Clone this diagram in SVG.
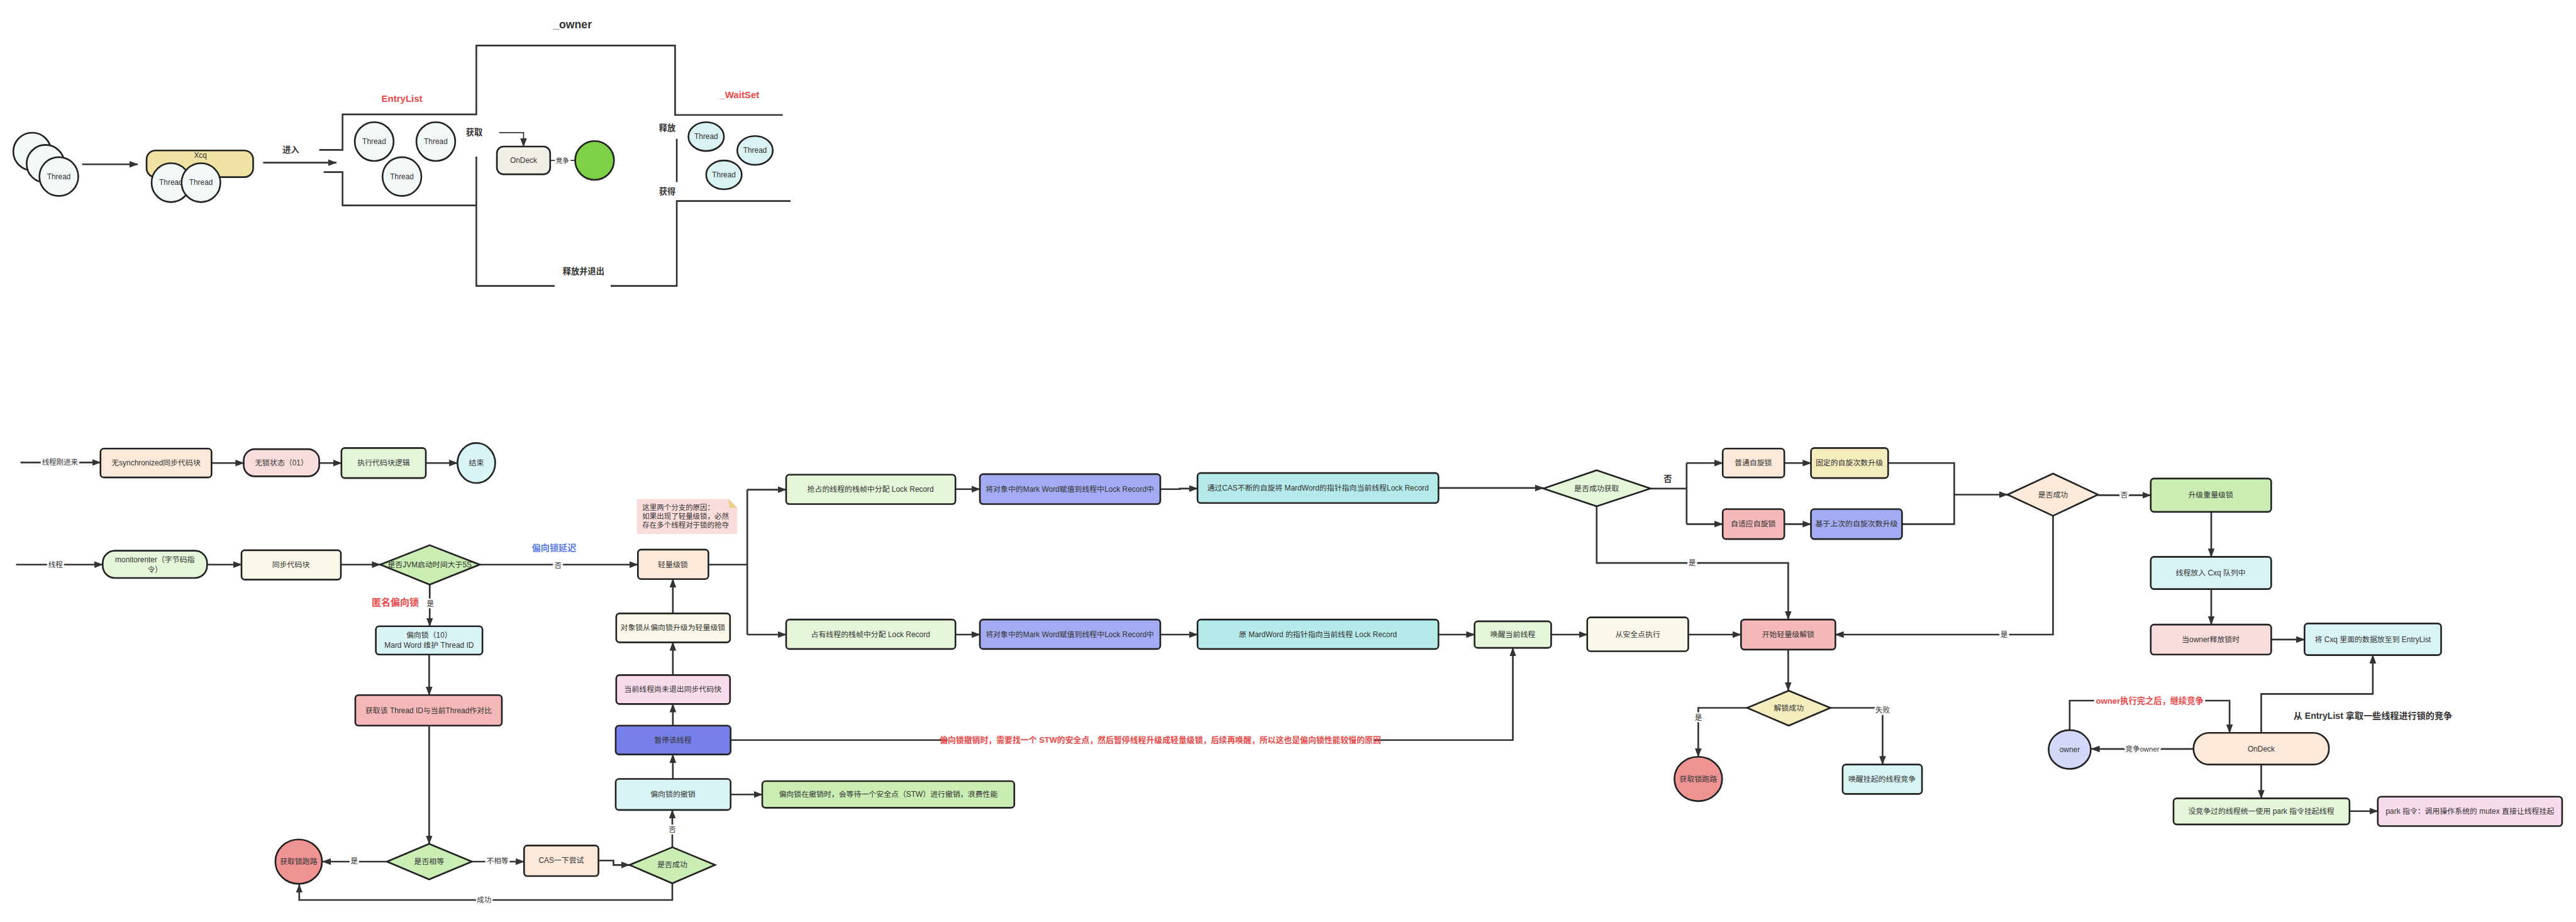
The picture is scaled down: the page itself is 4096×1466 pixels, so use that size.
<svg xmlns="http://www.w3.org/2000/svg" width="4096" height="1466" viewBox="0 0 4096 1466">
<defs>
<marker id="ah" markerWidth="16" markerHeight="12" refX="15" refY="6" orient="auto" markerUnits="userSpaceOnUse"><path d="M0,0 L16,6 L0,12 z" fill="#333"/></marker>
<style>
text{font-family:"Liberation Sans","Noto Sans CJK SC",sans-serif;font-size:13.5px;fill:#333;text-anchor:middle;dominant-baseline:central}
.b{stroke:#222;stroke-width:3}
.w{fill:none;stroke:#333;stroke-width:3}
.e{fill:none;stroke:#333;stroke-width:3;marker-end:url(#ah)}
.lbl{paint-order:stroke;stroke:#fff;stroke-width:6px;stroke-linejoin:round;font-size:13px}
.big{font-size:16px;font-weight:bold}
.red{fill:#e84848;font-weight:bold}
.blue{fill:#5b7ce8;font-weight:bold}
.peach{fill:#fce9da}.pinkl{fill:#f9dcdc}.greenl{fill:#e4f5d9}.cyan{fill:#d9f4f4}.cream{fill:#fcf8e9}
.gd{fill:#c9edb2}.salmon{fill:#f4b8b8}.bp{fill:#7780e8}.lav{fill:#a3acf2}.teal{fill:#b5eaea}
.yel{fill:#f5ecbd}.pink{fill:#f9dcec}.thr{fill:#f2f8f8}.thw{fill:#d9f2f2}
</style>
</defs>
<rect width="4096" height="1466" fill="#fff"/>
<g transform="scale(0.882759)">
<!-- ===== TOP DIAGRAM ===== -->
<g id="top-structure">
<path class="w" d="M575,270 H617 V206 H858 V82 H1216 V207 H1410"/>
<path class="w" d="M583,310 H617 V370 H858"/>
<path class="w" d="M858,282 V515 H999"/>
<path class="w" d="M1100,515 H1219 V362 H1424"/>
<path class="w" d="M1219,250 V328"/>
<text x="1031" y="44" style="font-size:20px;font-weight:bold">_owner</text>
<text x="724" y="177" class="red" style="font-size:17px">EntryList</text>
<text x="1332" y="171" class="red" style="font-size:17px">_WaitSet</text>
<text x="1051" y="489" style="font-size:15px;font-weight:bold">释放并退出</text>
<text x="1202" y="230" style="font-size:15px;font-weight:bold">释放</text>
<text x="1202" y="345" style="font-size:15px;font-weight:bold">获得</text>
<text x="854" y="239" style="font-size:15px;font-weight:bold">获取</text>
<text x="524" y="270" style="font-size:15px;font-weight:bold">进入</text>
</g>
<g id="top-connectors">
<path class="e" d="M148,296 H248"/>
<path class="e" d="M474,293 H606"/>
<path class="e" style="stroke-width:2" d="M899,239 H943 V264"/>
<path class="w" style="stroke-width:2" d="M991,289 H1036"/>
<text x="1013" y="289" class="lbl" style="font-size:12px">竞争</text>
</g>
<g id="threads-in">
<circle cx="58" cy="273" r="34" class="b thr"/>
<circle cx="82" cy="295" r="34" class="b thr"/>
<circle cx="106" cy="318" r="35" class="b thr"/>
<text x="106" y="318">Thread</text>
</g>
<g id="xcq">
<rect x="264" y="271" width="192" height="48" rx="16" class="b" fill="#f0e2a3"/>
<text x="361" y="280">Xcq</text>
<circle cx="308" cy="329" r="35" class="b thr"/>
<text x="308" y="329">Thread</text>
<circle cx="362" cy="329" r="35" class="b thr"/>
<text x="362" y="329">Thread</text>
</g>
<g id="entrylist-threads">
<circle cx="674" cy="255" r="35" class="b thr"/><text x="674" y="255">Thread</text>
<circle cx="785" cy="255" r="35" class="b thr"/><text x="785" y="255">Thread</text>
<circle cx="724" cy="318" r="35" class="b thr"/><text x="724" y="318">Thread</text>
</g>
<g id="ondeck-top">
<rect x="895" y="264" width="96" height="50" rx="12" class="b" fill="#f2efe8"/>
<text x="943" y="289">OnDeck</text>
</g>
<g id="owner-top">
<circle cx="1071" cy="289" r="35" class="b" fill="#7ed146"/>
</g>
<g id="waitset-threads">
<ellipse cx="1272" cy="246" rx="32" ry="26" class="b thw"/><text x="1272" y="246">Thread</text>
<ellipse cx="1360" cy="271" rx="32" ry="26" class="b thw"/><text x="1360" y="271">Thread</text>
<ellipse cx="1304" cy="315" rx="32" ry="26" class="b thw"/><text x="1304" y="315">Thread</text>
</g>

<!-- ===== BOTTOM FLOW: connectors ===== -->
<g id="connectors">
<path class="e" d="M37,833 H181"/>
<text x="108" y="833" class="lbl">线程刚进来</text>
<path class="e" d="M381,834 H439"/>
<path class="e" d="M575,834 H615"/>
<path class="e" d="M767,834 H824"/>
<path class="e" d="M29,1017 H185"/>
<text x="100" y="1017" class="lbl">线程</text>
<path class="e" d="M373,1017 H435"/>
<path class="e" d="M614,1017 H685"/>
<path class="e" d="M864,1017 H1149"/>
<text x="1005" y="1018" class="lbl">否</text>
<path class="e" d="M774,1053 V1128"/>
<text x="775" y="1088" class="lbl">是</text>
<path class="e" d="M773,1179 V1252"/>
<path class="e" d="M773,1307 V1520"/>
<path class="e" d="M697,1552 H581"/>
<text x="638" y="1551" class="lbl">是</text>
<path class="e" d="M850,1552 H944"/>
<text x="896" y="1551" class="lbl">不相等</text>
<path class="e" d="M1078,1550 H1105 V1558 H1134"/>
<path class="e" d="M1211,1591 V1621 H539 V1593"/>
<text x="872" y="1621" class="lbl">成功</text>
<path class="e" d="M1211,1526 V1459"/>
<text x="1211" y="1494" class="lbl">否</text>
<path class="e" d="M1316,1431 H1373"/>
<path class="e" d="M1212,1403 V1359"/>
<path class="e" d="M1212,1307 V1268"/>
<path class="e" d="M1212,1216 V1157"/>
<path class="e" d="M1212,1105 V1043"/>
<path class="w" d="M1316,1333 H1707"/>
<path class="e" d="M2474,1333 H2725 V1167"/>
<text x="2090" y="1333" class="red" style="font-size:14.6px">偏向锁撤销时，需要找一个 STW的安全点，然后暂停线程升级成轻量级锁，后续再唤醒，所以这也是偏向锁性能较慢的原因</text>
<path class="w" d="M1276,1017 H1346 M1346,882 V1143"/>
<path class="e" d="M1346,882 H1416"/>
<path class="e" d="M1346,1143 H1416"/>
<path class="e" d="M1721,881 H1765"/>
<path class="e" d="M2090,881 H2125 V880 H2157"/>
<path class="e" d="M1721,1143 H1765"/>
<path class="e" d="M2090,1143 H2157"/>
<path class="e" d="M2591,879 H2780"/>
<path class="e" d="M2591,1143 H2656"/>
<path class="w" d="M2973,880 H3038 M3038,834 V944"/>
<text x="3004" y="863" style="font-size:15px;font-weight:bold">否</text>
<path class="e" d="M3038,834 H3103"/>
<path class="e" d="M3038,944 H3103"/>
<path class="e" d="M3214,834 H3262"/>
<path class="e" d="M3214,944 H3262"/>
<path class="w" d="M3401,834 H3520 V944 H3426"/>
<path class="e" d="M3520,891 H3616"/>
<path class="e" d="M2876,912 V1014 H3221 V1116"/>
<text x="3048" y="1014" class="lbl">是</text>
<path class="e" d="M3698,929 V1143 H3306"/>
<text x="3610" y="1143" class="lbl">是</text>
<path class="e" d="M2794,1143 H2859"/>
<path class="e" d="M3041,1143 H3136"/>
<path class="e" d="M3221,1170 V1244"/>
<path class="e" d="M3147,1275 H3059 V1363"/>
<text x="3059" y="1293" class="lbl">是</text>
<path class="e" d="M3297,1275 H3391 V1377"/>
<text x="3391" y="1279" class="lbl">失败</text>
<path class="e" d="M3779,892 H3874"/>
<text x="3826" y="892" class="lbl">否</text>
<path class="e" d="M3983,922 V1003"/>
<path class="e" d="M3983,1061 V1125"/>
<path class="e" d="M4091,1152 H4151"/>
<path class="e" d="M4073,1320 V1250 H4274 V1180"/>
<text x="4274" y="1289" class="big">从 EntryList 拿取一些线程进行锁的竞争</text>
<path class="e" d="M3951,1349 H3767"/>
<text x="3859" y="1349" class="lbl">竞争owner</text>
<path class="w" d="M3728,1315 V1262 H3772"/>
<path class="e" d="M3972,1262 H4016 V1320"/>
<text x="3872" y="1262" class="red" style="font-size:15px">owner执行完之后，继续竞争</text>
<path class="e" d="M4073,1377 V1438"/>
<path class="e" d="M4232,1461 H4283"/>
<text x="712" y="1085" class="red" style="font-size:17px">匿名偏向锁</text>
<text x="998" y="987" class="blue" style="font-size:16px">偏向锁延迟</text>
</g>

<!-- ===== BOTTOM FLOW: nodes ===== -->
<g id="n-nosync"><rect x="181" y="808" width="200" height="52" rx="6" class="b peach"/><text x="281" y="834">无synchronized同步代码块</text></g>
<g id="n-nolock"><rect x="439" y="809" width="136" height="49" rx="20" class="b pinkl"/><text x="507" y="834">无锁状态（01）</text></g>
<g id="n-exec"><rect x="615" y="807" width="152" height="54" rx="6" class="b greenl"/><text x="691" y="834">执行代码块逻辑</text></g>
<g id="n-end"><ellipse cx="858" cy="834" rx="34" ry="36" class="b cyan"/><text x="858" y="834">结束</text></g>

<g id="n-monitorenter"><rect x="185" y="992" width="188" height="49" rx="22" class="b greenl"/><text x="279" y="1008">monitorenter（字节码指</text><text x="279" y="1026">令）</text></g>
<g id="n-syncblock"><rect x="435" y="991" width="179" height="53" rx="6" class="b cream"/><text x="524" y="1017">同步代码块</text></g>
<g id="n-jvm"><polygon points="685,1017 774,982 864,1017 774,1053" class="b gd"/><text x="774" y="1017">是否JVM启动时间大于5S</text></g>
<g id="n-biased"><rect x="677" y="1128" width="192" height="51" rx="6" class="b cyan"/><text x="773" y="1144">偏向锁（10）</text><text x="773" y="1162">Mard Word 维护 Thread ID</text></g>
<g id="n-compare"><rect x="640" y="1252" width="264" height="55" rx="6" class="b salmon"/><text x="772" y="1280">获取该 Thread ID与当前Thread作对比</text></g>
<g id="n-equal"><polygon points="697,1552 773,1520 850,1552 773,1584" class="b gd"/><text x="773" y="1552">是否相等</text></g>
<g id="n-run1"><ellipse cx="538" cy="1552" rx="42" ry="40" class="b" fill="#f09393"/><text x="538" y="1552">获取锁跑路</text></g>
<g id="n-cas"><rect x="944" y="1523" width="134" height="55" rx="6" class="b peach"/><text x="1011" y="1550">CAS一下尝试</text></g>
<g id="n-ok1"><polygon points="1134,1558 1211,1526 1288,1558 1211,1591" class="b gd"/><text x="1211" y="1558">是否成功</text></g>
<g id="n-revoke"><rect x="1109" y="1403" width="207" height="56" rx="6" class="b cyan"/><text x="1212" y="1431">偏向锁的撤销</text></g>
<g id="n-revoke-note"><rect x="1373" y="1407" width="454" height="48" rx="6" class="b gd"/><text x="1600" y="1431">偏向锁在撤销时，会等待一个安全点（STW）进行撤销，浪费性能</text></g>
<g id="n-pause"><rect x="1109" y="1307" width="207" height="52" rx="6" class="b bp"/><text x="1212" y="1333">暂停该线程</text></g>
<g id="n-notexit"><rect x="1110" y="1216" width="205" height="52" rx="6" class="b pink"/><text x="1212" y="1242">当前线程尚未退出同步代码快</text></g>
<g id="n-upgrade"><rect x="1110" y="1105" width="205" height="52" rx="6" class="b cream"/><text x="1212" y="1131">对象锁从偏向锁升级为轻量级锁</text></g>
<g id="n-light"><rect x="1149" y="990" width="127" height="53" rx="6" class="b peach"/><text x="1212" y="1017">轻量级锁</text></g>
<g id="n-note">
<polygon points="1147,899 1313,899 1328,915 1328,962 1147,962" fill="#f9dcdc"/>
<polygon points="1313,899 1328,915 1313,915" fill="#e8d08a"/>
<text x="1157" y="914" style="text-anchor:start;font-size:13px">这里两个分支的原因：</text>
<text x="1157" y="930" style="text-anchor:start;font-size:13px">如果出现了轻量级锁，必然</text>
<text x="1157" y="946" style="text-anchor:start;font-size:13px">存在多个线程对于锁的抢夺</text>
</g>
<g id="n-lr1"><rect x="1416" y="855" width="305" height="53" rx="6" class="b greenl"/><text x="1568" y="881">抢占的线程的栈帧中分配 Lock Record</text></g>
<g id="n-mw1"><rect x="1765" y="854" width="325" height="54" rx="6" class="b lav"/><text x="1927" y="881">将对象中的Mark Word赋值到线程中Lock Record中</text></g>
<g id="n-cas2"><rect x="2157" y="852" width="434" height="54" rx="6" class="b teal"/><text x="2374" y="879">通过CAS不断的自旋将 MardWord的指针指向当前线程Lock Record</text></g>
<g id="n-lr2"><rect x="1416" y="1116" width="305" height="53" rx="6" class="b greenl"/><text x="1568" y="1143">占有线程的栈帧中分配 Lock Record</text></g>
<g id="n-mw2"><rect x="1765" y="1116" width="325" height="53" rx="6" class="b lav"/><text x="1927" y="1143">将对象中的Mark Word赋值到线程中Lock Record中</text></g>
<g id="n-ptr"><rect x="2157" y="1116" width="434" height="53" rx="6" class="b teal"/><text x="2374" y="1143">原 MardWord 的指针指向当前线程 Lock Record</text></g>
<g id="n-gotit"><polygon points="2780,880 2876,847 2973,880 2876,912" class="b greenl"/><text x="2876" y="880">是否成功获取</text></g>
<g id="n-spin"><rect x="3103" y="808" width="111" height="52" rx="6" class="b peach"/><text x="3158" y="834">普通自旋锁</text></g>
<g id="n-fixed"><rect x="3262" y="807" width="139" height="54" rx="6" class="b yel"/><text x="3331" y="834">固定的自旋次数升级</text></g>
<g id="n-adaptive"><rect x="3103" y="917" width="111" height="54" rx="6" class="b salmon"/><text x="3158" y="944">自适应自旋锁</text></g>
<g id="n-based"><rect x="3262" y="917" width="164" height="54" rx="6" class="b lav"/><text x="3344" y="944">基于上次的自旋次数升级</text></g>
<g id="n-ok2"><polygon points="3616,891 3698,853 3779,891 3698,929" class="b peach"/><text x="3698" y="891">是否成功</text></g>
<g id="n-wake"><rect x="2656" y="1119" width="138" height="48" rx="6" class="b greenl"/><text x="2725" y="1143">唤醒当前线程</text></g>
<g id="n-safe"><rect x="2859" y="1112" width="182" height="61" rx="6" class="b cream"/><text x="2950" y="1143">从安全点执行</text></g>
<g id="n-unlock"><rect x="3136" y="1116" width="170" height="54" rx="6" class="b salmon"/><text x="3221" y="1143">开始轻量级解锁</text></g>
<g id="n-unlockok"><polygon points="3147,1275 3222,1244 3297,1275 3222,1307" class="b yel"/><text x="3222" y="1275">解锁成功</text></g>
<g id="n-run2"><ellipse cx="3059" cy="1403" rx="43" ry="40" class="b" fill="#f09393"/><text x="3059" y="1403">获取锁跑路</text></g>
<g id="n-wakeall"><rect x="3319" y="1377" width="143" height="53" rx="6" class="b cyan"/><text x="3390" y="1403">唤醒挂起的线程竞争</text></g>
<g id="n-heavy"><rect x="3874" y="862" width="217" height="60" rx="6" class="b gd"/><text x="3982" y="892">升级重量级锁</text></g>
<g id="n-cxq"><rect x="3874" y="1003" width="217" height="58" rx="6" class="b cyan"/><text x="3982" y="1032">线程放入 Cxq 队列中</text></g>
<g id="n-release"><rect x="3874" y="1125" width="217" height="54" rx="6" class="b pinkl"/><text x="3982" y="1152">当owner释放锁时</text></g>
<g id="n-toentry"><rect x="4151" y="1123" width="246" height="57" rx="6" class="b cyan"/><text x="4274" y="1152">将 Cxq 里面的数据放至到 EntryList</text></g>
<g id="n-ondeck"><rect x="3951" y="1320" width="244" height="57" rx="28" class="b peach"/><text x="4073" y="1349">OnDeck</text></g>
<g id="n-owner"><ellipse cx="3728" cy="1350" rx="38" ry="35" class="b" fill="#d4d8f8"/><text x="3728" y="1350">owner</text></g>
<g id="n-park"><rect x="3915" y="1438" width="317" height="47" rx="6" class="b greenl"/><text x="4073" y="1461">没竞争过的线程统一使用 park 指令挂起线程</text></g>
<g id="n-parknote"><rect x="4283" y="1435" width="332" height="53" rx="6" class="b pink"/><text x="4449" y="1461">park 指令：调用操作系统的 mutex 直接让线程挂起</text></g>
</g>
</svg>
